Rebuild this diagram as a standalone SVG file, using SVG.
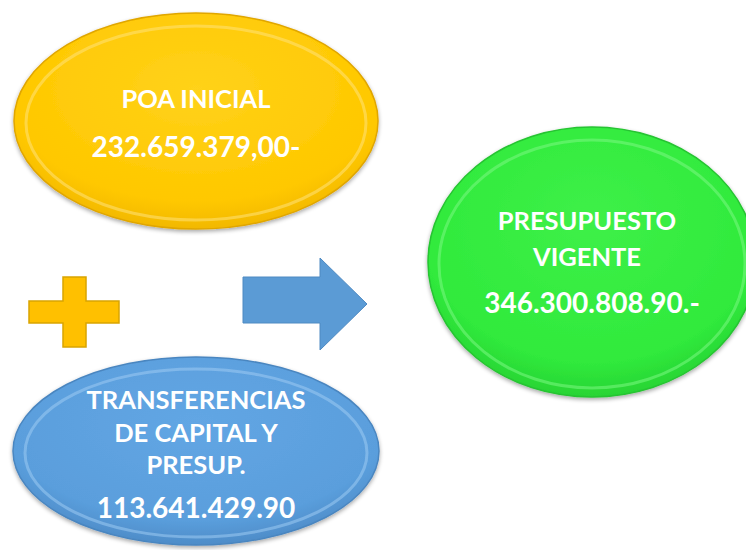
<svg xmlns="http://www.w3.org/2000/svg" width="746" height="550" viewBox="0 0 746 550">
<defs>
<radialGradient id="gY" cx="50%" cy="35%" r="65%">
<stop offset="0" stop-color="#FFD21A"/><stop offset="0.8" stop-color="#FFC800"/><stop offset="1" stop-color="#F2B800"/>
</radialGradient>
<radialGradient id="gB" cx="50%" cy="35%" r="65%">
<stop offset="0" stop-color="#62A6E4"/><stop offset="0.8" stop-color="#5A9EDC"/><stop offset="1" stop-color="#4E8CC8"/>
</radialGradient>
<radialGradient id="gG" cx="50%" cy="35%" r="65%">
<stop offset="0" stop-color="#3EF048"/><stop offset="0.8" stop-color="#30EA3C"/><stop offset="1" stop-color="#28D434"/>
</radialGradient>
<filter id="sh" x="-10%" y="-10%" width="120%" height="125%">
<feGaussianBlur in="SourceAlpha" stdDeviation="2"/><feOffset dy="2"/><feComponentTransfer><feFuncA type="linear" slope="0.35"/></feComponentTransfer>
<feMerge><feMergeNode/><feMergeNode in="SourceGraphic"/></feMerge>
</filter>
</defs>
<style>
.t{font-family:Lato,"Open Sans","Liberation Sans",sans-serif;font-weight:bold;font-size:25.5px;fill:#FFFFFF;text-anchor:middle}
.n{font-size:28px}
.rim{fill:none;stroke-width:3;opacity:0.55}
</style>
<g id="poa-inicial">
<ellipse cx="196" cy="121" rx="182" ry="108" fill="url(#gY)" stroke="#E0A600" stroke-width="1.5" filter="url(#sh)"/>
<ellipse cx="196" cy="123" rx="170" ry="97" class="rim" stroke="#FFE27A"/>
<text class="t" x="196" y="108">POA INICIAL</text>
<text class="t n" x="196" y="157">232.659.379,00-</text>
</g>
<g id="plus">
<path d="M63,277 H86 V301 H119 V323 H86 V347 H63 V323 H29 V301 H63 Z" fill="#FFC000" stroke="#D9A400" stroke-width="1.5"/>
</g>
<g id="transferencias">
<ellipse cx="196" cy="451" rx="183" ry="94" fill="url(#gB)" stroke="#4A86C0" stroke-width="1.5" filter="url(#sh)"/>
<ellipse cx="196" cy="453" rx="171" ry="84" class="rim" stroke="#9CCBF2"/>
<text class="t" x="196" y="409">TRANSFERENCIAS</text>
<text class="t" x="196" y="442">DE CAPITAL Y</text>
<text class="t" x="196" y="474">PRESUP.</text>
<text class="t n" x="196" y="518">113.641.429.90</text>
</g>
<g id="connectors">
<path d="M243,277 H320 V258 L367,304 L320,350 V323 H243 Z" fill="#5B9BD5" stroke="#4F8AC2" stroke-width="1"/>
</g>
<g id="presupuesto-vigente">
<ellipse cx="592" cy="262" rx="164" ry="135" fill="url(#gG)" stroke="#26C432" stroke-width="1.5" filter="url(#sh)"/>
<ellipse cx="592" cy="264" rx="153" ry="124" class="rim" stroke="#7AF882"/>
<text class="t" x="587" y="230">PRESUPUESTO</text>
<text class="t" x="587" y="266">VIGENTE</text>
<text class="t n" x="592" y="313">346.300.808.90.-</text>
</g>
</svg>
